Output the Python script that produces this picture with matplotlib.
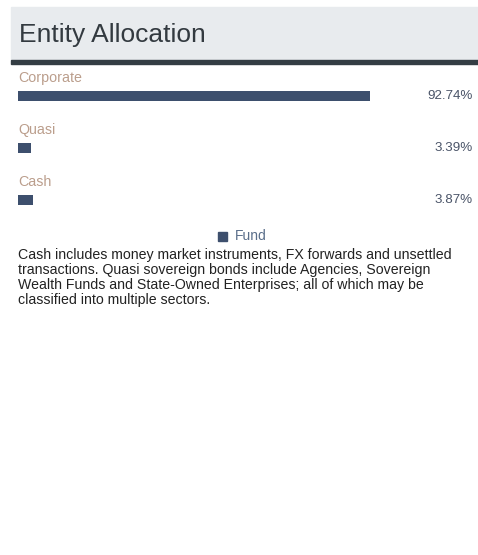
import matplotlib.pyplot as plt
from matplotlib.patches import Rectangle
import matplotlib.transforms as mtransforms

categories = ["Corporate", "Quasi", "Cash"]
fund = [92.74, 3.39, 3.87]
value_labels = ["92.74%", "3.39%", "3.87%"]
note_lines = ["Cash includes money market instruments, FX forwards and unsettled",
              "transactions. Quasi sovereign bonds include Agencies, Sovereign",
              "Wealth Funds and State-Owned Enterprises; all of which may be",
              "classified into multiple sectors."]

plt.rcParams['font.family'] = ['Liberation Sans', 'DejaVu Sans']

W, H = 478, 555
fig = plt.figure(figsize=(W / 100, H / 100), dpi=100)


def fx(px):
    return px / W


def fy(py):
    return 1 - py / H


# header band and rule
fig.patches.append(Rectangle((fx(11), fy(60)), fx(W - 11), 53 / H,
                             transform=fig.transFigure, color="#e8ebee", zorder=0))
fig.patches.append(Rectangle((fx(11), fy(64)), fx(W - 11), 4 / H,
                             transform=fig.transFigure, color="#343d44", zorder=1))
fig.text(fx(19), fy(35), "Entity Allocation", fontsize=19, color="#333a40",
         va="center", ha="left")

# bars axes: data y = i maps to pixel 96 + 52*i
ax = fig.add_axes([fx(18), fy(226), fx(380), 156 / H])
y = list(range(len(categories)))
ax.barh(y, fund, height=10 / 52, color="#3d4f6d")
ax.set_xlim(0, 100)
ax.set_ylim(2.5, -0.5)
ax.axis("off")

blend = mtransforms.blended_transform_factory(fig.transFigure, ax.transData)
for i, (cat, lab) in enumerate(zip(categories, value_labels)):
    ax.text(0, i - 18 / 52, cat, fontsize=10.3, color="#bb9e8c", va="center", ha="left")
    ax.text(fx(473), i, lab, transform=blend, fontsize=9.6, color="#4a5468",
            va="center", ha="right")

# legend
fig.patches.append(Rectangle((fx(218), fy(241)), fx(9), 9 / H,
                             transform=fig.transFigure, color="#3d4f6d"))
fig.text(fx(235), fy(236.5), "Fund", fontsize=10, color="#5a6e8a", va="center", ha="left")

for k, line in enumerate(note_lines):
    fig.text(fx(18), fy(255 + 15 * k), line, fontsize=10.2, color="#222222",
             va="center", ha="left")

fig.savefig("out.png", dpi=100)
